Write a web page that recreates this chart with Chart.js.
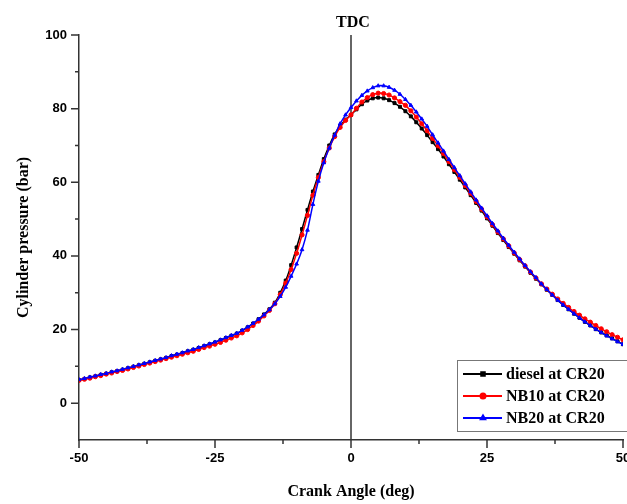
<!DOCTYPE html>
<html>
<head>
<meta charset="utf-8">
<script src="https://cdn.jsdelivr.net/npm/chart.js@4.4.1/dist/chart.umd.min.js"></script>
<style>
  html, body { margin: 0; padding: 0; background: #fff; overflow: hidden; }
  #wrap { width: 640px; height: 504px; }
</style>
</head>
<body>
<div id="wrap"><canvas id="chart" width="640" height="504"></canvas></div>
<script>
// crank angle (deg), one point per degree
const crankAngle = [
  -50, -49, -48, -47, -46, -45, -44, -43, -42, -41,
  -40, -39, -38, -37, -36, -35, -34, -33, -32, -31,
  -30, -29, -28, -27, -26, -25, -24, -23, -22, -21,
  -20, -19, -18, -17, -16, -15, -14, -13, -12, -11,
  -10, -9, -8, -7, -6, -5, -4, -3, -2, -1,
  0, 1, 2, 3, 4, 5, 6, 7, 8, 9,
  10, 11, 12, 13, 14, 15, 16, 17, 18, 19,
  20, 21, 22, 23, 24, 25, 26, 27, 28, 29,
  30, 31, 32, 33, 34, 35, 36, 37, 38, 39,
  40, 41, 42, 43, 44, 45, 46, 47, 48, 49, 50
]

const dieselCR20 = [
  6.3, 6.6, 7.0, 7.3, 7.7, 8.0, 8.4, 8.7, 9.1, 9.5,
  9.9, 10.3, 10.7, 11.1, 11.5, 11.9, 12.3, 12.8, 13.2, 13.6,
  14.1, 14.5, 15.0, 15.5, 16.0, 16.5, 17.1, 17.7, 18.3, 18.9,
  19.7, 20.6, 21.6, 22.8, 24.1, 25.5, 27.3, 30.0, 33.3, 37.5,
  42.3, 47.3, 52.5, 57.5, 62.0, 66.3, 70.0, 73.0, 75.3, 77.0,
  78.3, 79.8, 81.2, 82.2, 82.8, 83.0, 82.8, 82.3, 81.5, 80.5,
  79.3, 77.9, 76.3, 74.6, 72.8, 70.9, 69.0, 67.0, 64.9, 62.8,
  60.7, 58.6, 56.5, 54.4, 52.3, 50.2, 48.2, 46.2, 44.3, 42.4,
  40.6, 38.8, 37.1, 35.4, 33.8, 32.3, 30.8, 29.4, 28.0, 26.7,
  25.5, 24.3, 23.2, 22.1, 21.1, 20.1, 19.2, 18.4, 17.6, 16.8, 16.0
]

const nb10CR20 = [
  6.2, 6.5, 6.8, 7.2, 7.5, 7.9, 8.2, 8.6, 8.9, 9.3,
  9.7, 10.1, 10.5, 10.9, 11.3, 11.7, 12.1, 12.5, 12.9, 13.3,
  13.7, 14.1, 14.6, 15.1, 15.5, 16.0, 16.5, 17.1, 17.7, 18.3,
  19.1, 20.0, 21.1, 22.3, 23.7, 25.2, 27.0, 29.5, 32.6, 36.3,
  40.7, 45.7, 51.0, 56.5, 61.3, 65.6, 69.3, 72.4, 74.9, 76.8,
  78.3, 80.1, 81.8, 83.0, 83.8, 84.2, 84.1, 83.7, 82.9, 81.9,
  80.9, 79.4, 77.7, 75.9, 74.0, 71.9, 69.9, 67.8, 65.6, 63.4,
  61.3, 59.1, 57.0, 54.8, 52.7, 50.6, 48.5, 46.5, 44.6, 42.7,
  40.8, 39.0, 37.3, 35.6, 34.0, 32.4, 31.0, 29.6, 28.3, 27.1,
  26.0, 24.9, 23.9, 22.9, 22.0, 21.1, 20.2, 19.4, 18.6, 17.9, 17.2
]

const nb20CR20 = [
  6.4, 6.7, 7.1, 7.4, 7.8, 8.1, 8.5, 8.8, 9.2, 9.6,
  10.0, 10.4, 10.8, 11.2, 11.6, 12.0, 12.4, 12.9, 13.3, 13.7,
  14.2, 14.6, 15.1, 15.6, 16.1, 16.6, 17.2, 17.8, 18.4, 19.0,
  19.8, 20.7, 21.7, 22.8, 24.0, 25.4, 27.0, 29.0, 31.5, 34.5,
  37.8, 41.7, 47.0, 54.0, 60.3, 65.3, 69.3, 72.8, 75.9, 78.3,
  80.3, 82.1, 83.6, 84.8, 85.7, 86.2, 86.2, 85.8, 85.0, 83.9,
  82.5, 80.9, 79.1, 77.2, 75.2, 72.9, 70.7, 68.5, 66.2, 64.0,
  61.8, 59.6, 57.4, 55.2, 53.0, 50.9, 48.8, 46.8, 44.8, 42.9,
  41.0, 39.2, 37.4, 35.7, 34.1, 32.4, 30.9, 29.4, 28.0, 26.7,
  25.5, 24.3, 23.2, 22.1, 21.1, 20.1, 19.2, 18.3, 17.5, 16.7, 16.0
]

const seriesLabels = ["diesel at CR20", "NB10 at CR20", "NB20 at CR20"]
const xTickLabels = [-50, -25, 0, 25, 50]
const yTickLabels = [0, 20, 40, 60, 80, 100]

const toPoints = (vals) => vals.map((v, i) => ({ x: crankAngle[i], y: v }))

// tick marks drawn by hand so minor ones can be shorter
const axisTicks = {
  id: "axisTicks",
  afterDraw(chart) {
    const { ctx, chartArea: a, scales: { x, y } } = chart
    ctx.save()
    ctx.strokeStyle = "#333"
    ctx.lineWidth = 1.5
    ctx.beginPath()
    x.ticks.forEach((t) => {
      const px = x.getPixelForValue(t.value)
      const len = xTickLabels.includes(t.value) ? 8 : 4
      ctx.moveTo(px, a.bottom)
      ctx.lineTo(px, a.bottom + len)
    })
    y.ticks.forEach((t) => {
      const py = y.getPixelForValue(t.value)
      const len = yTickLabels.includes(t.value) ? 8 : 4
      ctx.moveTo(a.left, py)
      ctx.lineTo(a.left - len, py)
    })
    ctx.stroke()
    ctx.restore()
  },
}

// TDC marker line at 0 deg
const tdcLine = {
  id: "tdcLine",
  beforeDatasetsDraw(chart) {
    const { ctx, chartArea: a, scales: { x } } = chart
    const px = x.getPixelForValue(0)
    ctx.save()
    ctx.strokeStyle = "#333"
    ctx.lineWidth = 1.5
    ctx.beginPath()
    ctx.moveTo(px, a.top)
    ctx.lineTo(px, a.bottom)
    ctx.stroke()
    ctx.fillStyle = "#000"
    ctx.font = "bold 16px 'Liberation Serif'"
    ctx.textAlign = "center"
    ctx.textBaseline = "middle"
    ctx.fillText("TDC", px + 2, 23)
    ctx.restore()
  },
}

// boxed legend in the lower right corner
const boxLegend = {
  id: "boxLegend",
  afterDraw(chart) {
    const { ctx } = chart
    const bx = 457, by = 360, bw = 200, bh = 71
    ctx.save()
    ctx.fillStyle = "#fff"
    ctx.fillRect(bx, by, bw, bh)
    ctx.strokeStyle = "#777"
    ctx.lineWidth = 1
    ctx.strokeRect(bx + 0.5, by + 0.5, bw, bh)
    chart.data.datasets.forEach((ds, i) => {
      const cy = by + 14 + i * 22
      ctx.strokeStyle = ds.borderColor
      ctx.lineWidth = 2
      ctx.beginPath()
      ctx.moveTo(bx + 6, cy)
      ctx.lineTo(bx + 45, cy)
      ctx.stroke()
      ctx.fillStyle = ds.borderColor
      Chart.helpers.drawPoint(ctx, { pointStyle: ds.pointStyle, radius: 2.5, rotation: 0, borderWidth: 1 }, bx + 26, cy)
      ctx.fillStyle = "#000"
      ctx.font = "bold 16px 'Liberation Serif'"
      ctx.textAlign = "left"
      ctx.textBaseline = "middle"
      ctx.fillText(ds.label, bx + 49, cy + 1)
    })
    ctx.restore()
  },
}

const ds = (label, vals, color, style, order) => ({
  label,
  data: toPoints(vals),
  order,
  borderColor: color,
  backgroundColor: color,
  borderWidth: 1.5,
  pointStyle: style,
  pointRadius: 2.1,
  pointBorderWidth: 1,
  pointBorderColor: color,
  pointBackgroundColor: color,
  tension: 0.3,
})

new Chart(document.getElementById("chart"), {
  type: "line",
  data: {
    datasets: [
      ds(seriesLabels[0], dieselCR20, "#000000", "rect", 2),
      ds(seriesLabels[1], nb10CR20, "#ff0000", "circle", 1),
      ds(seriesLabels[2], nb20CR20, "#0000ff", "triangle", 0),
    ],
  },
  options: {
    responsive: false,
    animation: false,
    layout: { padding: { top: 35, right: 17, bottom: 0, left: 0 } },
    plugins: { legend: { display: false }, tooltip: { enabled: false } },
    scales: {
      x: {
        type: "linear",
        min: -50,
        max: 50,
        afterFit: (s) => { s.height = 64 },
        afterBuildTicks: (s) => {
          s.ticks = [-50, -37.5, -25, -12.5, 0, 12.5, 25, 37.5, 50].map((v) => ({ value: v }))
        },
        ticks: {
          autoSkip: false,
          maxRotation: 0,
          padding: 3,
          color: "#000",
          font: { family: "'Liberation Sans'", weight: "bold", size: 13 },
          callback: (v) => (xTickLabels.includes(v) ? String(v) : ""),
        },
        grid: { display: true, drawOnChartArea: false, tickColor: "transparent", tickLength: 8 },
        border: { display: true, color: "#333", width: 1.5 },
        title: {
          display: true,
          text: "Crank Angle (deg)",
          color: "#000",
          padding: { top: 0, bottom: 3 },
          font: { family: "'Liberation Serif'", weight: "bold", size: 16 },
        },
      },
      y: {
        min: -10,
        max: 100,
        afterFit: (s) => { s.width = 79 },
        afterBuildTicks: (s) => {
          s.ticks = [0, 10, 20, 30, 40, 50, 60, 70, 80, 90, 100].map((v) => ({ value: v }))
        },
        ticks: {
          autoSkip: false,
          padding: 4,
          color: "#000",
          font: { family: "'Liberation Sans'", weight: "bold", size: 13 },
          callback: (v) => (yTickLabels.includes(v) ? String(v) : ""),
        },
        grid: { display: true, drawOnChartArea: false, tickColor: "transparent", tickLength: 8 },
        border: { display: true, color: "#333", width: 1.5 },
        title: {
          display: true,
          text: "Cylinder pressure (bar)",
          color: "#000",
          padding: { top: 14, bottom: 0 },
          font: { family: "'Liberation Serif'", weight: "bold", size: 16 },
        },
      },
    },
  },
  plugins: [axisTicks, tdcLine, boxLegend],
})
</script>
</body>
</html>
